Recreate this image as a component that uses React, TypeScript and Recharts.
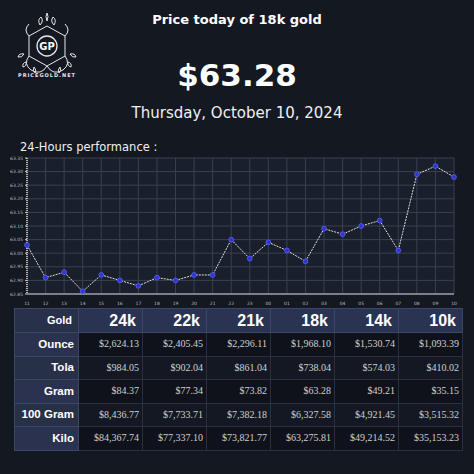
import React from "react";
import { LineChart, Line, XAxis, YAxis, CartesianGrid } from "recharts";

const hours = ["11","12","13","14","15","16","17","18","19","20","21","22","23","00","01","02","03","04","05","06","07","08","09","10"];
const prices = [63.03,62.91,62.93,62.86,62.92,62.9,62.88,62.91,62.9,62.92,62.92,63.05,62.98,63.04,63.01,62.97,63.09,63.07,63.1,63.12,63.01,63.29,63.32,63.28];
const yTicks = [62.85,62.9,62.95,63.0,63.05,63.1,63.15,63.2,63.25,63.3,63.35];

const karats = ["24k","22k","21k","18k","14k","10k"];
const units = ["Ounce","Tola","Gram","100 Gram","Kilo"];
const ounceRow = ["$2,624.13","$2,405.45","$2,296.11","$1,968.10","$1,530.74","$1,093.39"];
const tolaRow = ["$984.05","$902.04","$861.04","$738.04","$574.03","$410.02"];
const gramRow = ["$84.37","$77.34","$73.82","$63.28","$49.21","$35.15"];
const hundredRow = ["$8,436.77","$7,733.71","$7,382.18","$6,327.58","$4,921.45","$3,515.32"];
const kiloRow = ["$84,367.74","$77,337.10","$73,821.77","$63,275.81","$49,214.52","$35,153.23"];
const tableRows = [ounceRow, tolaRow, gramRow, hundredRow, kiloRow];

const chartData = hours.map((h, i) => ({ hour: h, price: prices[i] }));

const BG = "#141821";

const Logo = () => (
  <svg width={70} height={70} style={{ position: "absolute", left: 12, top: 12 }} viewBox="0 0 70 70">
    <g fill="none" stroke="#e8e8e8" strokeWidth={1}>
      <polygon points="35,14 53,24 53,44 35,54 17,44 17,24" />
      <circle cx={35} cy={34} r={10} strokeWidth={1.3} />
      <path d="M28,13 q-3,-5 1,-8 q3,4 -1,8 z" />
      <path d="M42,13 q3,-5 -1,-8 q-3,4 1,8 z" />
      <path d="M35,9 q-2,-5 0,-8 q2,3 0,8 z" />
      <path d="M12,42 q-5,-1 -6,3 q4,1 6,-3 z" />
      <path d="M14,50 q-4,1 -3,5 q4,-1 3,-5 z" />
      <path d="M58,42 q5,-1 6,3 q-4,1 -6,-3 z" />
      <path d="M56,50 q4,1 3,5 q-4,-1 -3,-5 z" />
      <path d="M22,55 q-2,4 1,6 q2,-3 -1,-6 z" />
      <path d="M48,55 q2,4 -1,6 q-2,-3 1,-6 z" />
      <path d="M17,44 q-6,8 2,14 q10,6 16,-4 q6,10 16,4 q8,-6 2,-14" />
      <path d="M17,24 q-6,-6 0,-12" />
      <path d="M53,24 q6,-6 0,-12" />
    </g>
    <text x={35} y={38} textAnchor="middle" fontFamily="DejaVu Sans" fontWeight="bold" fontSize={10} fill="#ffffff">GP</text>
  </svg>
);

export default function App() {
  const thStyle: React.CSSProperties = {
    border: "1px solid #3c4766",
    textAlign: "right",
    padding: "0 6px",
    fontFamily: "Liberation Sans, Arial, sans-serif",
    fontWeight: "bold",
    color: "#ffffff",
    background: "#28304a",
    whiteSpace: "nowrap",
    lineHeight: 1,
  };
  const tdStyle: React.CSSProperties = {
    border: "1px solid #2a3040",
    textAlign: "right",
    padding: "0 3px",
    fontFamily: "Liberation Serif, Times New Roman, serif",
    fontSize: 10,
    color: "#d0d0d0",
    background: "#10131b",
    whiteSpace: "nowrap",
    lineHeight: 1,
  };
  return (
    <div style={{ position: "fixed", left: 0, top: 0, width: 474, height: 474, background: BG, overflow: "hidden", fontFamily: "DejaVu Sans, sans-serif" }}>
      <Logo />
      <div style={{ position: "absolute", left: 10, top: 72, width: 74, textAlign: "center", color: "#e8e8e8", fontSize: 5, fontWeight: "bold", letterSpacing: 1, fontFamily: "DejaVu Sans" }}>PRICEGOLD.NET</div>
      <div style={{ position: "absolute", left: 0, top: 12, width: 474, textAlign: "center", color: "#fff", fontWeight: "bold", fontSize: 13 }}>Price today of 18k gold</div>
      <div style={{ position: "absolute", left: 0, top: 57, width: 474, textAlign: "center", color: "#fff", fontWeight: "bold", fontSize: 31 }}>$63.28</div>
      <div style={{ position: "absolute", left: 0, top: 104, width: 474, textAlign: "center", color: "#f0f0f0", fontSize: 15 }}>Thursday, October 10, 2024</div>
      <div style={{ position: "absolute", left: 20, top: 140, color: "#f0f0f0", fontSize: 11.5 }}>24-Hours performance :</div>
      <div style={{ position: "absolute", left: 0, top: 150 }}>
        <LineChart width={474} height={160} data={chartData} margin={{ top: 8, right: 20, bottom: 0, left: 0 }}>
          <CartesianGrid stroke="#394052" strokeWidth={1} fill="#1a1f2c" fillOpacity={1} />
          <XAxis
            dataKey="hour"
            height={16}
            interval={0}
            tick={{ fontSize: 4.5, fill: "#b8bcc8" }}
            tickLine={false}
            axisLine={{ stroke: "#7a7f8c", strokeWidth: 2 }}
            padding={{ left: 0, right: 0 }}
          />
          <YAxis
            domain={[62.85, 63.35]}
            ticks={yTicks}
            width={27}
            interval={0}
            tickFormatter={(v: number) => v.toFixed(2)}
            tick={{ fontSize: 4.5, fill: "#b8bcc8" }}
            tickLine={{ stroke: "#cccccc" }}
            tickSize={2}
            axisLine={{ stroke: "#dddddd", strokeDasharray: "1 1", strokeWidth: 1.5 }}
          />
          <Line
            type="linear"
            dataKey="price"
            stroke="#e0e0e0"
            strokeWidth={1}
            strokeDasharray="2 1"
            isAnimationActive={false}
            dot={{ r: 2.4, fill: "#2f35d0", stroke: "#5a60ff", strokeWidth: 0.8, strokeDasharray: "" }}
          />
        </LineChart>
      </div>
      <table style={{ position: "absolute", left: 14, top: 308, width: 447, borderCollapse: "collapse", border: "1px solid #7d8498", tableLayout: "fixed" }}>
        <colgroup>
          <col style={{ width: 64 }} />
          {karats.map((k) => <col key={k} style={{ width: 64 }} />)}
        </colgroup>
        <thead>
          <tr style={{ height: 24 }}>
            <th style={{ ...thStyle, fontSize: 11 }}>Gold</th>
            {karats.map((k) => (
              <th key={k} style={{ ...thStyle, fontSize: 16, background: "#2a3352" }}>{k}</th>
            ))}
          </tr>
        </thead>
        <tbody>
          {units.map((u, i) => (
            <tr key={u} style={{ height: 23.5 }}>
              <th style={{ ...thStyle, fontSize: 11.5, padding: "0 4px", background: i % 2 === 0 ? "#2a3250" : "#283048" }}>{u}</th>
              {tableRows[i].map((v, j) => (
                <td key={j} style={{ ...tdStyle, background: i % 2 === 0 ? "#0f121a" : "#141822" }}>{v}</td>
              ))}
            </tr>
          ))}
        </tbody>
      </table>
    </div>
  );
}
